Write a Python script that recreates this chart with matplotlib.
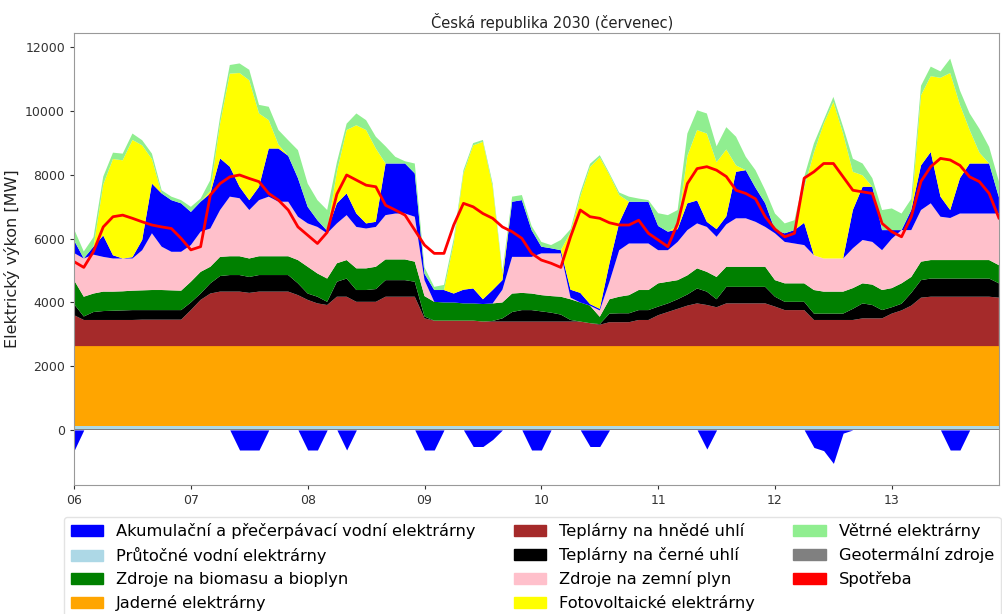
import numpy as np
import matplotlib
matplotlib.use("Agg")
import matplotlib.pyplot as plt
from matplotlib.patches import Patch

# ---- time axis: 2-hour steps, 6.-13. July ----
hours = np.arange(0, 192, 2)
day_ticks = [0, 24, 48, 72, 96, 120, 144, 168]
day_labels = ["06", "07", "08", "09", "10", "11", "12", "13"]

# ---- constant sources [MW] ----
geothermal_mw = 25
run_of_river_mw = 110
nuclear_top_mw = 2630

# ---- read-off tops of stacked layers [MW] (cumulative levels) ----
lignite_top = [
    3600, 3450, 3450, 3450, 3450, 3450, 3450, 3460, 3460, 3460, 3460, 3460,
    3760, 4080, 4280, 4340, 4340, 4340, 4300, 4340, 4340, 4340, 4340, 4230,
    4080, 3970, 3920, 4180, 4180, 4020, 4020, 4020, 4180, 4180, 4180, 4180,
    3500, 3430, 3430, 3430, 3430, 3430, 3400, 3400, 3400, 3400, 3400, 3400,
    3400, 3400, 3400, 3400, 3400, 3350, 3300, 3380, 3380, 3380, 3450, 3450,
    3600, 3700, 3800, 3900, 3970, 3920, 3850, 3970, 3970, 3970, 3970, 3970,
    3870, 3760, 3760, 3760, 3450, 3450, 3450, 3450, 3450, 3500, 3500, 3500,
    3650, 3750, 3900, 4150, 4180, 4180, 4180, 4180, 4180, 4180, 4180, 4150]
coal_top = [
    3950, 3560, 3700, 3730, 3740, 3750, 3760, 3760, 3760, 3760, 3760, 3760,
    4000, 4280, 4600, 4830, 4860, 4860, 4800, 4860, 4860, 4860, 4860, 4600,
    4280, 4180, 4020, 4650, 4750, 4390, 4390, 4420, 4700, 4700, 4700, 4650,
    3560, 3430, 3430, 3430, 3430, 3430, 3400, 3420, 3500, 3700, 3760, 3760,
    3720, 3680, 3620, 3450, 3400, 3350, 3320, 3650, 3660, 3660, 3760, 3760,
    3870, 3970, 4100, 4250, 4440, 4340, 4100, 4490, 4490, 4490, 4490, 4490,
    4180, 4020, 4020, 4020, 3650, 3650, 3650, 3650, 3800, 3970, 3920, 3760,
    3850, 3960, 4300, 4700, 4750, 4750, 4750, 4750, 4750, 4750, 4750, 4600]
biomass_top = [
    4700, 4180, 4280, 4340, 4340, 4350, 4370, 4380, 4390, 4390, 4380, 4370,
    4650, 4960, 5120, 5430, 5450, 5450, 5380, 5450, 5450, 5450, 5450, 5330,
    5120, 4910, 4750, 5230, 5330, 5070, 5070, 5120, 5350, 5350, 5350, 5280,
    4200, 4020, 4000, 4000, 3970, 3970, 3950, 3970, 4000, 4280, 4300, 4280,
    4230, 4200, 4180, 4100, 4000, 3900, 3550, 4100, 4180, 4230, 4390, 4390,
    4600, 4650, 4700, 4850, 5070, 4960, 4800, 5120, 5120, 5120, 5120, 5120,
    4700, 4600, 4600, 4600, 4390, 4340, 4340, 4340, 4450, 4600, 4560, 4390,
    4450, 4600, 4800, 5280, 5330, 5330, 5330, 5330, 5330, 5330, 5330, 5170]
gas_top = [
    5550, 5380, 5500, 5430, 5380, 5380, 5380, 5640, 6170, 5750, 5590, 5590,
    5800, 6220, 6320, 6900, 7320, 7270, 6900, 7210, 7320, 7160, 7160, 6690,
    6480, 6370, 6170, 6480, 6740, 6370, 6320, 6370, 6740, 6790, 6790, 6690,
    4700, 4020, 4000, 4000, 3970, 3970, 3950, 3970, 4400, 5430, 5430, 5430,
    5540, 5540, 5540, 4150, 4000, 3900, 3750, 4650, 5640, 5850, 5850, 5850,
    5640, 5640, 5900, 6270, 6480, 6370, 6060, 6450, 6640, 6640, 6530, 6370,
    6170, 5900, 5850, 5800, 5480, 5380, 5380, 5380, 5700, 5960, 5900, 5640,
    6000, 6270, 6270, 6900, 7110, 6690, 6650, 6790, 6790, 6790, 6790, 6790]
hydro_gen_top = [
    5950, 5380, 5750, 6100, 5480, 5380, 5420, 5960, 7730, 7420, 7210, 7110,
    6840, 7160, 7420, 8520, 8260, 7630, 7210, 7630, 8830, 8830, 8600, 7900,
    7000, 6580, 6250, 7110, 7420, 6790, 6480, 6530, 8360, 8360, 8360, 8050,
    4900, 4390, 4390, 4280, 4400, 4440, 4100, 4390, 4700, 7160, 7210, 6270,
    5750, 5700, 5640, 4400, 4300, 3950, 3800, 5230, 6500, 7160, 7160, 7160,
    6400, 6220, 6300, 7110, 7200, 6530, 6300, 6700, 8100, 8150, 7600, 7110,
    6270, 6170, 6270, 6500, 5480, 5380, 5380, 5380, 6900, 7630, 7630, 6270,
    6270, 6270, 6900, 8300, 8720, 7320, 6900, 7900, 8360, 8360, 8360, 7300]
pv_top = [
    5950, 5380, 5750, 7700, 8500, 8460, 9100, 8930, 8500, 7420, 7210, 7110,
    6840, 7160, 7500, 9610, 11180, 11200, 10970, 9930, 9720, 8950, 8600, 7900,
    7000, 6580, 6250, 8100, 9410, 9560, 9410, 8830, 8360, 8360, 8360, 8050,
    4900, 4390, 4390, 5850, 8050, 8930, 9040, 7630, 4900, 7160, 7210, 6270,
    5750, 5700, 5640, 6200, 7320, 8250, 8550, 8000, 7370, 7160, 7160, 7160,
    6400, 6220, 6400, 8600, 9410, 9300, 8400, 8800, 8300, 8150, 7600, 7110,
    6270, 6170, 6270, 7600, 8700, 9600, 10290, 9300, 8100, 7990, 7630, 6270,
    6270, 6270, 6900, 10500, 11100, 11050, 11200, 10200, 9410, 8700, 8360, 7300]
wind_top = [
    6300, 5600, 6050, 7950, 8700, 8670, 9300, 9090, 8670, 7520, 7320, 7210,
    7000, 7260, 7840, 9820, 11450, 11500, 11300, 10200, 10140, 9410, 9090, 8780,
    7730, 7210, 6900, 8400, 9610, 9930, 9720, 9200, 8900, 8570, 8430, 8360,
    5100, 4490, 4550, 6000, 8150, 9000, 9100, 7730, 5000, 7320, 7370, 6400,
    5900, 5800, 5960, 6300, 7450, 8350, 8620, 8050, 7450, 7320, 7260, 7210,
    6800, 6740, 6900, 9300, 10030, 9930, 8900, 9500, 9200, 8570, 8150, 7520,
    6790, 6480, 6580, 7940, 8990, 9720, 10450, 9510, 8510, 8360, 7900, 6900,
    6950, 6790, 7250, 10800, 11400, 11250, 11650, 10650, 9930, 9450, 8880, 7800]

# pumped-storage consumption (below zero) [MW]
hydro_pumping = [
    -650, 0, 0, 0, 0, 0, 0, 0, 0, 0, 0, 0,
    0, 0, 0, 0, 0, -630, -630, -630, 0, 0, 0, 0,
    -630, -630, 0, 0, -630, 0, 0, 0, 0, 0, 0, 0,
    -630, -630, 0, 0, 0, -520, -520, -300, 0, 0, 0, -630,
    -630, 0, 0, 0, 0, -520, -520, 0, 0, 0, 0, 0,
    0, 0, 0, 0, 0, -600, 0, 0, 0, 0, 0, 0,
    0, 0, 0, 0, -550, -650, -1050, -100, 0, 0, 0, 0,
    0, 0, 0, 0, 0, 0, -630, -630, 0, 0, 0, 0]

# consumption [MW]
consumption = [
    5280, 5100, 5600, 6370, 6690, 6740, 6640, 6530, 6430, 6370, 6320, 6010,
    5650, 5750, 7370, 7730, 7940, 8000, 7890, 7790, 7420, 7210, 6900, 6370,
    6110, 5850, 6200, 7400, 8000, 7840, 7680, 7630, 7050, 6900, 6740, 6270,
    5800, 5540, 5540, 6430, 7110, 7000, 6790, 6640, 6370, 6220, 6010, 5540,
    5330, 5230, 5100, 6060, 6900, 6690, 6640, 6500, 6430, 6430, 6580, 6170,
    5960, 5750, 6480, 7730, 8200, 8260, 8150, 7950, 7520, 7420, 7250, 6690,
    6300, 6060, 6170, 7900, 8100, 8360, 8360, 7940, 7520, 7470, 7420, 6480,
    6220, 6060, 6690, 7800, 8260, 8520, 8470, 8300, 7940, 7790, 7420, 6650]

# ---- derive layer thicknesses from the read tops ----
n = len(hours)
geo = np.full(n, geothermal_mw, dtype=float)
ror = np.full(n, run_of_river_mw, dtype=float)
nuc = np.full(n, nuclear_top_mw - run_of_river_mw - geothermal_mw, dtype=float)
levels = [np.full(n, nuclear_top_mw, dtype=float)] + [np.asarray(a, dtype=float) for a in
          (lignite_top, coal_top, biomass_top, gas_top, hydro_gen_top, pv_top, wind_top)]
layers = [np.maximum(levels[i + 1] - levels[i], 0) for i in range(len(levels) - 1)]
lignite, coal, biomass, gas, hydro_gen, pv, wind = layers

c_hydro = "#0000ff"
c_ror = "#add8e6"
c_bio = "#008000"
c_nuc = "#ffa500"
c_lig = "#a52a2a"
c_coal = "#000000"
c_gas = "#ffc0cb"
c_pv = "#ffff00"
c_wind = "#90ee90"
c_geo = "#808080"
c_cons = "#ff0000"

fig = plt.figure(figsize=(10.02, 6.14), dpi=100)
ax = fig.add_axes([0.0739, 0.210, 0.923, 0.736])

ax.stackplot(hours, geo, ror, nuc, lignite, coal, biomass, gas, hydro_gen, pv, wind,
             colors=[c_geo, c_ror, c_nuc, c_lig, c_coal, c_bio, c_gas, c_hydro, c_pv, c_wind],
             linewidth=0)
ax.fill_between(hours, hydro_pumping, 0, color=c_hydro, linewidth=0)
ax.plot(hours, consumption, color=c_cons, linewidth=2)

ax.set_xlim(0, 190)
ax.set_ylim(-1730, 12450)
ax.set_xticks(day_ticks)
ax.set_xticklabels(day_labels)
ax.set_yticks([0, 2000, 4000, 6000, 8000, 10000, 12000])
ax.tick_params(labelsize=9, colors="#333333", length=3)
for s in ax.spines.values():
    s.set_color("#999999")
    s.set_linewidth(0.8)

ax.set_title("Česká republika 2030 (červenec)", fontsize=10.5, color="#222222",
             pad=4, x=0.517)
ax.set_ylabel("Elektrický výkon [MW]", fontsize=11.5, color="#222222")

handles = [
    Patch(color=c_hydro, label="Akumulační a přečerpávací vodní elektrárny"),
    Patch(color=c_ror, label="Průtočné vodní elektrárny"),
    Patch(color=c_bio, label="Zdroje na biomasu a bioplyn"),
    Patch(color=c_nuc, label="Jaderné elektrárny"),
    Patch(color=c_lig, label="Teplárny na hnědé uhlí"),
    Patch(color=c_coal, label="Teplárny na černé uhlí"),
    Patch(color=c_gas, label="Zdroje na zemní plyn"),
    Patch(color=c_pv, label="Fotovoltaické elektrárny"),
    Patch(color=c_wind, label="Větrné elektrárny"),
    Patch(color=c_geo, label="Geotermální zdroje"),
    Patch(color=c_cons, label="Spotřeba"),
]
fig.legend(handles=handles, loc="upper left", bbox_to_anchor=(0.064, 0.158),
           ncol=3, fontsize=11.7, frameon=True, edgecolor="#dddddd",
           handlelength=2.0, handleheight=0.7, handletextpad=0.8,
           columnspacing=2.35, labelspacing=0.49, borderaxespad=0, fancybox=True)

fig.savefig("out.png", dpi=100)
